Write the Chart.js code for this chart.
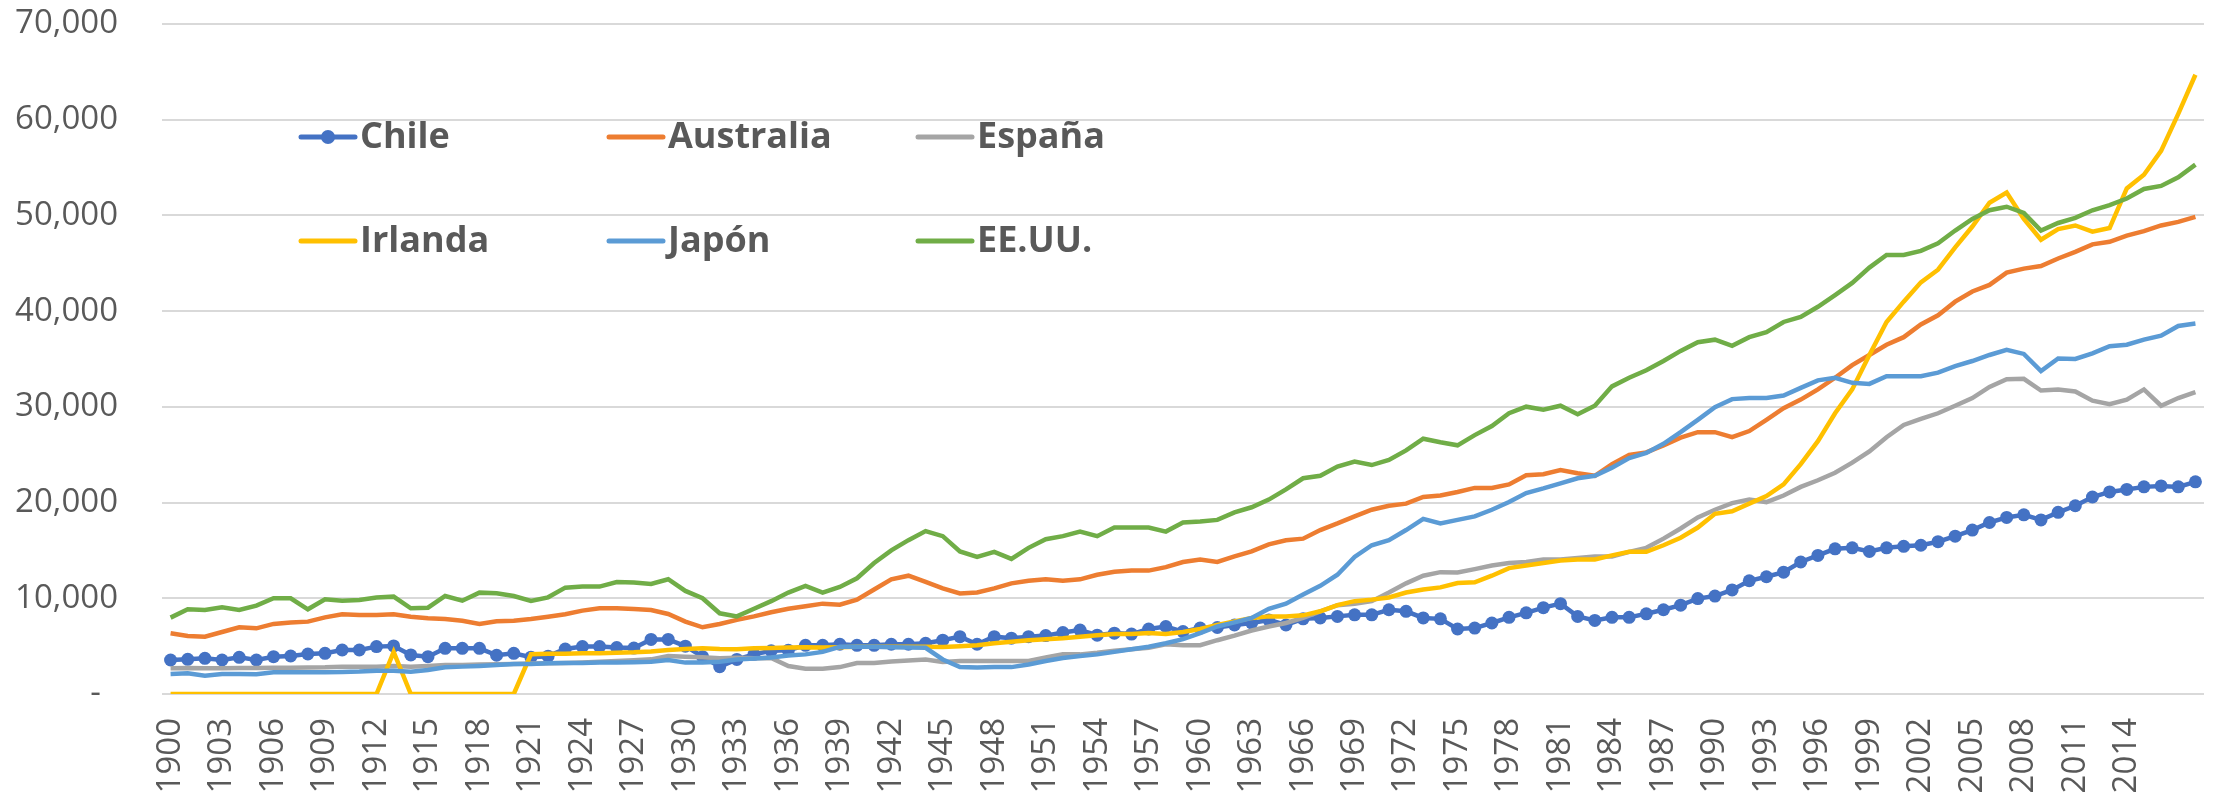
<!DOCTYPE html>
<html>

<head>
    <title>PIB per cápita</title>
    <script src="https://cdn.jsdelivr.net/npm/chart.js"></script>
    <style>
        body { margin: 0; background: #fff; }
    </style>
</head>

<body>
    <canvas id="myChart" width="2213" height="796"></canvas>

    <script>
        // years 1900 - 2018
        var years = [];
        for (var y = 1900; y <= 2018; y++) years.push(String(y));

        var chile = [
            3550, 3620, 3730, 3550, 3830, 3550, 3900, 3970, 4180, 4250,
            4600, 4600, 4950, 5020, 4080, 3900, 4770, 4770, 4770, 4050,
            4250, 3850, 3950, 4700, 4950, 4950, 4850, 4800, 5700, 5700,
            5000, 3900, 2850, 3610, 4140, 4510, 4560, 5090, 5090, 5200,
            5090, 5090, 5200, 5200, 5300, 5620, 5990, 5200, 5990, 5830,
            5990, 6100, 6420, 6680, 6150, 6360, 6260, 6790, 7050, 6520,
            6890, 6950, 7210, 7420, 7740, 7210, 7850, 7950, 8110, 8270,
            8270, 8800, 8640, 7950, 7850, 6790, 6890, 7420, 8010, 8480,
            9020, 9440, 8110, 7690, 8010, 8010, 8380, 8800, 9280, 9970,
            10230, 10870, 11830, 12250, 12730, 13790, 14480, 15170, 15270, 14900,
            15270, 15430, 15540, 15910, 16490, 17130, 17920, 18450, 18720, 18190,
            18980, 19670, 20580, 21110, 21370, 21640, 21740, 21640, 22170
        ];
        var australia = [
            6340, 6060, 5990, 6480, 6970, 6860, 7320, 7460, 7560, 8010,
            8330, 8260, 8260, 8330, 8080, 7910, 7840, 7660, 7320, 7600,
            7660, 7840, 8080, 8330, 8710, 8950, 8950, 8880, 8780, 8360,
            7560, 6970, 7320, 7740, 8110, 8540, 8910, 9170, 9440, 9330,
            9860, 10920, 11980, 12360, 11720, 11030, 10500, 10610, 11030, 11560,
            11830, 11980, 11830, 11980, 12460, 12780, 12890, 12890, 13260, 13790,
            14050, 13790, 14370, 14900, 15640, 16070, 16230, 17130, 17820, 18560,
            19250, 19670, 19890, 20580, 20740, 21110, 21530, 21530, 21900, 22860,
            22960, 23390, 23070, 22800, 24020, 24980, 25240, 25980, 26780, 27360,
            27360, 26830, 27470, 28640, 29860, 30760, 31820, 33040, 34360, 35420,
            36490, 37280, 38610, 39560, 40990, 42050, 42740, 44020, 44440, 44710,
            45500, 46190, 46980, 47250, 47890, 48360, 48950, 49320, 49850
        ];
        var espana = [
            2680, 2720, 2680, 2700, 2720, 2720, 2750, 2750, 2780, 2800,
            2860, 2860, 2860, 2930, 2860, 2930, 3030, 3030, 3080, 3100,
            3140, 3180, 3200, 3250, 3300, 3380, 3450, 3520, 3620, 3970,
            3900, 3830, 3730, 3800, 3730, 3770, 2920, 2650, 2650, 2810,
            3230, 3230, 3390, 3500, 3610, 3340, 3450, 3450, 3450, 3450,
            3450, 3820, 4140, 4140, 4300, 4510, 4670, 4830, 5200, 5090,
            5090, 5620, 6100, 6630, 7050, 7420, 7950, 8640, 9280, 9440,
            9700, 10600, 11560, 12360, 12730, 12700, 13050, 13420, 13680, 13790,
            14050, 14050, 14210, 14370, 14370, 14850, 15270, 16230, 17290, 18450,
            19250, 19940, 20310, 20050, 20740, 21640, 22330, 23120, 24180, 25350,
            26830, 28110, 28740, 29330, 30120, 30920, 32080, 32880, 32930, 31710,
            31820, 31610, 30650, 30280, 30760, 31820, 30120, 30920, 31550
        ];
        var irlanda = [
            0, 0, 0, 0, 0, 0, 0, 0, 0, 0,
            0, 0, 0, 4400, 0, 0, 0, 0, 0, 0,
            0, 4150, 4200, 4200, 4250, 4250, 4300, 4350, 4450, 4600,
            4700, 4770, 4700, 4670, 4770, 4800, 4850, 4880, 4850, 4880,
            4930, 4930, 4930, 4930, 4930, 4900, 4980, 5090, 5300, 5460,
            5620, 5730, 5830, 5990, 6150, 6260, 6260, 6360, 6260, 6470,
            6790, 7210, 7580, 7950, 8110, 8110, 8220, 8640, 9280, 9700,
            9860, 10080, 10600, 10920, 11140, 11600, 11670, 12360, 13150, 13420,
            13680, 13950, 14050, 14050, 14480, 14850, 14850, 15540, 16330, 17390,
            18830, 19090, 19890, 20680, 21900, 24020, 26410, 29330, 31820, 35420,
            38870, 40990, 43010, 44330, 46670, 48840, 51330, 52390, 49640, 47460,
            48580, 48950, 48310, 48680, 52820, 54250, 56740, 60610, 64700
        ];
        var japon = [
            2090, 2160, 1920, 2090, 2090, 2060, 2260, 2260, 2260, 2260,
            2300, 2350, 2440, 2440, 2330, 2510, 2790, 2860, 2930, 3030,
            3140, 3140, 3210, 3230, 3250, 3280, 3300, 3330, 3380, 3550,
            3280, 3280, 3380, 3610, 3710, 3820, 4030, 4140, 4400, 4930,
            4930, 4930, 4880, 4850, 4830, 3610, 2810, 2760, 2810, 2810,
            3080, 3450, 3770, 3980, 4140, 4400, 4670, 4930, 5300, 5730,
            6360, 7050, 7480, 7950, 8910, 9440, 10390, 11300, 12460, 14320,
            15540, 16070, 17130, 18300, 17820, 18190, 18560, 19250, 20050, 21000,
            21480, 22010, 22540, 22800, 23650, 24660, 25190, 26140, 27360, 28640,
            29960, 30810, 30920, 30920, 31180, 31980, 32770, 33040, 32510, 32400,
            33200, 33200, 33200, 33570, 34260, 34790, 35420, 35950, 35530, 33730,
            35050, 35000, 35580, 36330, 36490, 37020, 37440, 38450, 38710
        ];
        var eeuu = [
            7980, 8850, 8780, 9060, 8780, 9230, 10000, 10000, 8850, 9890,
            9750, 9820, 10070, 10170, 8950, 9020, 10240, 9750, 10590, 10520,
            10240, 9720, 10100, 11110, 11220, 11220, 11700, 11640, 11500, 11990,
            10770, 10000, 8430, 8110, 8910, 9700, 10600, 11300, 10600, 11190,
            12090, 13680, 15010, 16070, 17020, 16490, 14900, 14320, 14850, 14110,
            15270, 16170, 16490, 16970, 16490, 17390, 17390, 17390, 16970, 17920,
            18030, 18190, 18980, 19510, 20310, 21370, 22540, 22800, 23760, 24290,
            23920, 24450, 25450, 26670, 26300, 25980, 27050, 28000, 29330, 30020,
            29700, 30120, 29220, 30120, 32140, 33040, 33830, 34790, 35850, 36750,
            37020, 36380, 37280, 37810, 38870, 39400, 40460, 41680, 42950, 44550,
            45870, 45870, 46300, 47090, 48420, 49640, 50540, 50910, 50270, 48420,
            49210, 49740, 50540, 51070, 51760, 52770, 53080, 53980, 55310
        ];

        var textColor = '#595959';
        var gridColor = '#d9d9d9';

        function lineSet(label, data, color, order) {
            return {
                label: label,
                data: data,
                borderColor: color,
                backgroundColor: color,
                borderWidth: 4.5,
                pointRadius: 0,
                tension: 0,
                order: order
            };
        }

        var chileSet = lineSet('Chile', chile, '#4472C4', 6);
        chileSet.pointRadius = 6.5;
        chileSet.pointBorderWidth = 0;
        chileSet.pointBackgroundColor = '#4472C4';

        var datasets = [
            chileSet,
            lineSet('Australia', australia, '#ED7D31', 5),
            lineSet('España', espana, '#A5A5A5', 4),
            lineSet('Irlanda', irlanda, '#FFC000', 3),
            lineSet('Japón', japon, '#5B9BD5', 2),
            lineSet('EE.UU.', eeuu, '#70AD47', 1)
        ];

        // legend drawn inside the plot, 3 columns x 2 rows
        var legendPlugin = {
            id: 'insideLegend',
            afterDraw: function (chart) {
                var ctx = chart.ctx;
                var colX = [301, 609, 918];
                var rowY = [137, 241];
                ctx.save();
                ctx.font = 'bold 36px "Open Sans"';
                ctx.textBaseline = 'middle';
                ctx.textAlign = 'left';
                chart.data.datasets.forEach(function (ds, i) {
                    var x = colX[i % 3];
                    var y = rowY[Math.floor(i / 3)];
                    ctx.strokeStyle = ds.borderColor;
                    ctx.lineWidth = 5;
                    ctx.lineCap = 'round';
                    ctx.beginPath();
                    ctx.moveTo(x, y);
                    ctx.lineTo(x + 54, y);
                    ctx.stroke();
                    if (ds.pointRadius > 0) {
                        ctx.fillStyle = ds.borderColor;
                        ctx.beginPath();
                        ctx.arc(x + 27, y, 7, 0, Math.PI * 2);
                        ctx.fill();
                    }
                    ctx.fillStyle = textColor;
                    ctx.fillText(ds.label, x + 59, y + 1);
                });
                ctx.restore();
            }
        };

        var ctx = document.getElementById('myChart').getContext('2d');
        var myChart = new Chart(ctx, {
            type: 'line',
            data: {
                labels: years,
                datasets: datasets
            },
            plugins: [legendPlugin],
            options: {
                responsive: false,
                animation: false,
                layout: {
                    padding: { top: 24, right: 9, bottom: 0, left: 0 }
                },
                plugins: {
                    legend: { display: false },
                    tooltip: { enabled: false }
                },
                scales: {
                    x: {
                        offset: true,
                        grid: { display: false, drawTicks: false },
                        border: { display: false },
                        ticks: {
                            autoSkip: false,
                            maxRotation: 90,
                            minRotation: 90,
                            padding: 24,
                            color: textColor,
                            font: { family: 'Open Sans', size: 33 },
                            callback: function (value, index) {
                                if (index % 3 === 0 && index <= 114) return this.getLabelForValue(value);
                                return '';
                            }
                        },
                        afterFit: function (scale) {
                            scale.height = 102;
                            scale.paddingLeft = 0;
                            scale.paddingRight = 0;
                        }
                    },
                    y: {
                        min: 0,
                        max: 70000,
                        grid: { color: gridColor, lineWidth: 2, drawTicks: false },
                        border: { display: false },
                        ticks: {
                            stepSize: 10000,
                            padding: 44,
                            color: textColor,
                            font: { family: 'Open Sans', size: 33 },
                            callback: function (value) {
                                if (value === 0) return '-  ';
                                return value.toLocaleString('en-US');
                            }
                        },
                        afterFit: function (scale) {
                            scale.width = 162;
                            scale.paddingTop = 0;
                            scale.paddingBottom = 0;
                        }
                    }
                }
            }
        });
    </script>
</body>

</html>
